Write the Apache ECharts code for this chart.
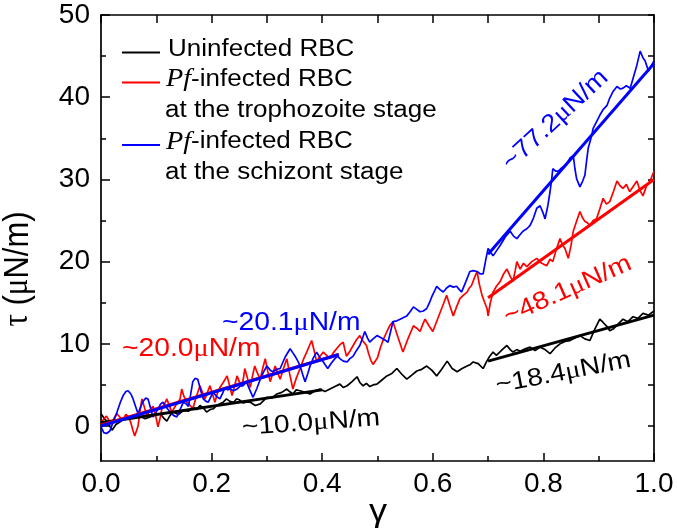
<!DOCTYPE html>
<html>
<head>
<meta charset="utf-8">
<script src="https://cdn.jsdelivr.net/npm/echarts@6/dist/echarts.min.js"></script>
<style>html,body{margin:0;padding:0;background:#fff}#c{width:677px;height:532px}</style>
</head>
<body>
<div id="c"></div>
<script>
// ---- data ----
const gammaBlack = [0,.005,.01,.015,.02,.027,.034,.043,.052,.061,.07,.08,.089,.098,.107,.113,.119,.125,.13,.14,.149,.158,.167,.173,.179,.185,.191,.197,.203,.209,.215,.221,.227,.233,.24,.245,.25,.257,.263,.27,.279,.288,.294,.30,.309,.318,.327,.336,.341,.347,.353,.36,.369,.378,.387,.396,.405,.414,.423,.432,.438,.445,.454,.463,.468,.474,.48,.486,.492,.499,.508,.517,.526,.535,.544,.553,.562,.571,.58,.589,.598,.607,.616,.626,.635,.644,.653,.662,.668,.673,.682,.691,.697,.703,.709,.715,.721,.727,.734,.74,.745,.752,.758,.767,.776,.785,.794,.803,.812,.821,.83,.839,.848,.857,.866,.875,.884,.893,.902,.908,.915,.92,.926,.935,.944,.953,.962,.971,.98,.99,1.0];
const tauBlack = [1.5,1.0,0.6,0.1,-0.5,0.2,0.5,0.9,0.85,1.3,1.2,0.9,1.1,1.4,1.5,1.0,0.6,1.3,1.7,1.4,1.9,1.8,2.3,2.0,2.5,2.2,1.7,2.0,2.1,2.5,2.7,2.9,3.3,3.0,2.9,3.3,3.2,2.8,2.9,2.9,2.5,2.7,3.1,3.5,3.4,3.9,4.1,4.5,4.2,3.9,4.4,4.3,4.1,3.9,4.3,4.5,4.2,4.5,4.8,5.1,4.7,4.9,5.4,6.0,5.3,4.9,5.2,4.8,5.0,5.1,5.6,6.1,6.4,7.0,6.3,5.7,6.2,6.7,6.9,7.3,6.8,6.1,6.9,7.9,7.0,6.6,7.0,7.3,7.5,7.8,7.6,7.0,7.8,8.5,9.0,8.6,9.0,9.4,9.8,9.3,9.0,9.3,9.1,9.4,9.6,9.2,9.6,9.3,8.8,9.5,10.0,10.3,10.4,10.7,11.0,10.6,10.4,11.8,13.0,12.6,12.1,11.6,11.8,12.4,13.0,12.7,13.3,13.1,13.7,13.5,14.0];

const gammaRed = [0,.005,.01,.015,.02,.025,.029,.035,.04,.045,.049,.054,.058,.061,.064,.067,.071,.074,.078,.083,.088,.094,.099,.103,.107,.11,.115,.119,.124,.128,.135,.143,.146,.15,.155,.16,.166,.172,.179,.184,.188,.193,.197,.202,.206,.21,.215,.221,.228,.233,.237,.242,.246,.25,.255,.258,.26,.265,.27,.274,.278,.283,.288,.292,.297,.301,.306,.31,.315,.32,.324,.33,.336,.341,.347,.353,.36,.366,.372,.377,.381,.386,.39,.396,.402,.408,.414,.42,.426,.432,.438,.441,.444,.45,.456,.462,.468,.474,.48,.484,.488,.492,.495,.5,.505,.511,.517,.522,.528,.537,.546,.555,.565,.571,.577,.582,.586,.593,.6,.608,.616,.62,.625,.631,.637,.643,.649,.655,.662,.666,.67,.675,.68,.684,.689,.694,.698,.70,.704,.709,.715,.722,.728,.734,.74,.745,.749,.752,.758,.764,.77,.779,.788,.797,.806,.812,.817,.823,.83,.835,.839,.845,.85,.854,.86,.866,.871,.875,.88,.884,.89,.896,.902,.908,.914,.92,.927,.933,.939,.944,.95,.956,.962,.969,.975,.98,.987,.993,.997,1.0];
const tauRed = [0.2,0.9,1.2,0.6,0.5,1.1,1.5,1.0,0.85,1.4,1.2,0.4,-0.6,-1.2,-0.6,0,2.0,3.3,2.4,1.2,1.9,2.4,1.2,-0.1,1.0,2.1,2.7,3.3,2.4,1.7,2.5,3.3,4.5,3.6,2.9,2.6,2.1,3.5,4.9,4.0,3.3,4.2,4.9,3.8,2.9,3.9,4.7,5.3,6.1,4.8,3.7,5.0,6.1,5.4,4.9,6.0,7.0,5.8,4.7,6.1,7.3,6.4,5.7,6.9,8.2,6.8,5.4,6.3,7.3,6.4,5.7,7.0,8.2,6.4,4.5,5.8,7.0,8.1,9.0,9.8,10.4,9.0,7.8,8.5,9.0,8.6,8.2,8.9,9.4,9.9,10.2,9.3,8.5,9.1,9.8,10.5,11.0,10.3,9.8,8.8,8.0,7.5,7.3,8.3,9.5,10.6,11.5,12.2,12.7,10.8,9.0,10.6,12.2,11.9,11.5,12.4,13.0,12.2,11.5,12.9,14.3,15.0,15.9,14.6,13.4,14.5,15.5,15.9,16.3,16.8,17.1,18.0,18.8,17.3,15.9,15.0,14.3,13.4,15.0,16.3,17.0,17.6,18.5,19.1,18.2,17.6,18.9,20.0,19.1,19.8,19.4,20.0,20.4,19.8,19.5,20.3,20.0,21.4,22.8,22.0,21.6,20.4,22.0,23.7,24.9,26.1,25.3,24.9,24.7,24.4,25.0,25.2,26.4,27.7,27.0,27.3,28.6,29.8,29.2,28.9,29.4,28.5,29.1,29.8,28.6,28.0,29.3,29.8,30.5,31.0];

const gammaBlue = [0,.005,.01,.016,.022,.029,.035,.04,.045,.049,.054,.058,.063,.067,.072,.076,.081,.085,.09,.094,.099,.103,.108,.112,.118,.125,.131,.137,.143,.149,.154,.158,.162,.166,.17,.175,.18,.185,.19,.194,.199,.203,.209,.215,.22,.224,.229,.233,.24,.246,.252,.257,.263,.269,.275,.282,.288,.294,.30,.306,.311,.318,.324,.333,.342,.347,.351,.356,.36,.365,.369,.374,.378,.384,.39,.396,.402,.406,.41,.417,.423,.428,.432,.438,.445,.45,.456,.462,.468,.473,.477,.482,.486,.492,.499,.505,.51,.515,.519,.524,.528,.535,.541,.547,.553,.559,.565,.571,.577,.583,.589,.594,.598,.603,.607,.613,.619,.625,.631,.637,.643,.648,.652,.66,.667,.673,.68,.686,.691,.696,.70,.705,.709,.716,.722,.731,.74,.746,.752,.758,.763,.77,.776,.782,.788,.794,.799,.803,.808,.812,.815,.817,.822,.827,.833,.839,.844,.848,.854,.857,.86,.866,.871,.875,.878,.881,.886,.89,.896,.902,.908,.915,.92,.926,.933,.939,.944,.95,.957,.963,.969,.975,.98,.984,.99,.995,1.0];
const tauBlue = [-0.1,-0.8,-0.9,-0.6,0.5,1.7,2.9,3.7,4.2,4.3,3.9,3.3,2.3,1.5,2.4,3.0,3.4,3.3,2.1,1.1,1.6,2.1,2.7,2.9,2.3,1.7,1.3,1.1,2.0,2.9,2.7,2.4,3.8,5.4,5.8,5.7,4.4,3.3,3.0,2.9,3.6,4.1,3.6,3.3,4.0,4.7,4.4,4.5,4.3,4.5,4.9,4.9,5.4,4.4,3.5,4.6,5.7,6.6,7.3,6.8,6.6,6.9,7.0,8.4,9.4,8.9,8.5,7.9,7.3,6.2,5.4,6.4,7.3,8.3,9.0,8.3,7.8,7.4,7.0,7.7,8.2,8.5,8.2,7.9,7.8,8.2,8.5,9.2,9.8,10.7,11.5,10.7,10.2,10.6,11.0,10.8,10.6,10.4,10.2,11.6,12.7,12.8,13.0,13.2,13.4,13.9,14.5,14.2,13.9,14.0,14.3,15.0,15.7,16.4,17.0,16.6,16.3,16.8,17.1,16.9,17.0,16.6,16.3,17.6,18.8,18.9,18.8,18.5,18.5,20.3,21.6,21.1,20.7,21.4,22.0,23.0,23.7,23.1,22.8,23.3,23.7,24.0,24.4,25.3,26.5,26.8,26.0,25.2,26.8,28.5,30.0,31.3,31.0,31.0,31.4,31.7,32.1,32.6,32.9,31.3,30.1,29.1,29.8,30.5,32.2,33.8,35.0,36.2,37.0,37.8,38.5,39.0,39.9,40.7,41.3,41.0,41.1,41.4,41.1,42.5,43.9,45.6,44.8,44.4,43.2,43.8,44.4];

// linear fits (end points)
const fitBlackLowGamma = [0, 0.40], fitBlackLowTau = [0.4, 4.4];
const fitBlackHighGamma = [0.70, 1.0], fitBlackHighTau = [7.9, 13.5];
const fitRedLowGamma = [0, 0.43], fitRedLowTau = [0.1, 8.7];
const fitRedHighGamma = [0.70, 1.0], fitRedHighTau = [15.6, 30.0];
const fitBlueLowGamma = [0, 0.43], fitBlueLowTau = [0.0, 8.7];
const fitBlueHighGamma = [0.70, 1.0], fitBlueHighTau = [20.9, 44.1];

const yMajorTicks = [0, 10, 20, 30, 40, 50];
const yMinorTicks = [5, 15, 25, 35, 45];
const yRightTicks = [0, 5, 10, 15, 20, 25, 30, 35, 40, 45, 50];

const zip = (a, b) => a.map((v, i) => [v, b[i]]);
const FONT = '"Liberation Sans", Arial, sans-serif';
const SERIF = '"Liberation Serif", "Times New Roman", serif';
const Y_MIN = -4.25, Y_MAX = 50;

const chart = echarts.init(document.getElementById('c'), null, {renderer: 'canvas'});

const axisLineStyle = {color: '#000', width: 1.7};
function line(data, color, width, z) {
  return {type: 'line', data: data, showSymbol: false, symbol: 'none', silent: true,
    lineStyle: {color: color, width: width}, z: z, animation: false, clip: true};
}

function label(txt, color, x, y, rot, size, sx) {
  return {type: 'text', x: x, y: y, rotation: rot * Math.PI / 180, scaleX: sx || 1.13, scaleY: 1, z: 100,
    style: {text: txt, fill: color, font: size + 'px ' + FONT, verticalAlign: 'middle', align: 'left',
      rich: {g: {fontFamily: SERIF, fontSize: size, fill: color}}}};
}
function legendText(txt, x, y) {
  return {type: 'text', x: x, y: y, scaleX: 1.13, z: 100,
    style: {text: txt, fill: '#000', font: '23px ' + FONT, verticalAlign: 'middle',
      rich: {pf: {fontFamily: SERIF, fontStyle: 'italic', fontSize: 25, fill: '#000'}}}};
}

const option = {
  backgroundColor: '#fff',
  animation: false,
  grid: {left: 101, right: 23, top: 15, bottom: 71, containLabel: false},
  xAxis: [
    {type: 'value', min: 0, max: 1, interval: 0.2, position: 'bottom',
      axisLine: {show: true, onZero: false, lineStyle: axisLineStyle},
      axisTick: {show: true, inside: true, length: 8, lineStyle: {color: '#000', width: 1.5}},
      minorTick: {show: true, splitNumber: 2, length: 5, lineStyle: {color: '#000', width: 1.5}},
      axisLabel: {show: true, margin: 9, fontSize: 28, color: '#000', fontFamily: FONT,
        formatter: v => v.toFixed(1)},
      splitLine: {show: false}, minorSplitLine: {show: false}},
    {type: 'value', min: 0, max: 1, interval: 0.1, position: 'top',
      axisLine: {show: true, onZero: false, lineStyle: axisLineStyle},
      axisTick: {show: true, inside: true, length: 8, lineStyle: {color: '#000', width: 1.5}},
      axisLabel: {show: false}, splitLine: {show: false}}
  ],
  yAxis: [
    {type: 'value', min: Y_MIN, max: Y_MAX, position: 'left',
      axisLine: {show: true, onZero: false, lineStyle: axisLineStyle},
      axisTick: {show: true, inside: true, length: 9, customValues: yMajorTicks, lineStyle: {color: '#000', width: 1.5}},
      axisLabel: {show: true, customValues: yMajorTicks, margin: 11, fontSize: 28, color: '#000', fontFamily: FONT},
      splitLine: {show: false}},
    {type: 'value', min: Y_MIN, max: Y_MAX, position: 'right',
      axisLine: {show: true, onZero: false, lineStyle: axisLineStyle},
      axisTick: {show: true, inside: true, length: 6, customValues: yRightTicks, lineStyle: {color: '#000', width: 1.5}},
      axisLabel: {show: false}, splitLine: {show: false}},
    {type: 'value', min: Y_MIN, max: Y_MAX, position: 'left',
      axisLine: {show: false, onZero: false},
      axisTick: {show: true, inside: true, length: 5, customValues: yMinorTicks, lineStyle: {color: '#000', width: 1.5}},
      axisLabel: {show: false}, splitLine: {show: false}}
  ],
  series: [
    line(zip(gammaBlack, tauBlack), '#000000', 1.7, 2),
    line(zip(gammaRed, tauRed), '#ff0000', 1.7, 3),
    line(zip(gammaBlue, tauBlue), '#0000ff', 1.7, 4),
    line(zip(fitBlackLowGamma, fitBlackLowTau), '#000000', 3, 5),
    line(zip(fitBlackHighGamma, fitBlackHighTau), '#000000', 3, 5),
    line(zip(fitRedLowGamma, fitRedLowTau), '#ff0000', 3, 6),
    line(zip(fitRedHighGamma, fitRedHighTau), '#ff0000', 3, 6),
    line(zip(fitBlueLowGamma, fitBlueLowTau), '#0000ff', 3, 7),
    line(zip(fitBlueHighGamma, fitBlueHighTau), '#0000ff', 3, 7)
  ],
  graphic: [
    // legend
    {type: 'line', shape: {x1: 122, y1: 52.5, x2: 160, y2: 52.5}, style: {stroke: '#000', lineWidth: 1.8}, z: 100},
    {type: 'line', shape: {x1: 122, y1: 82.5, x2: 160, y2: 82.5}, style: {stroke: '#ff0000', lineWidth: 1.8}, z: 100},
    {type: 'line', shape: {x1: 122, y1: 145, x2: 160, y2: 145}, style: {stroke: '#0000ff', lineWidth: 1.8}, z: 100},
    legendText('Uninfected RBC', 168, 49.5),
    legendText('{pf|Pf}-infected RBC', 166, 79.5),
    legendText('at the trophozoite stage', 165, 110.5),
    legendText('{pf|Pf}-infected RBC', 166, 142),
    legendText('at the schizont stage', 165, 172.5),
    // slope annotations
    label('~20.0{g|μ}N/m', '#ff0000', 122, 349, 0, 25),
    label('~20.1{g|μ}N/m', '#0000ff', 222, 323, 0, 25),
    label('~10.0{g|μ}N/m', '#000000', 242, 428, 4, 25),
    label('~18.4{g|μ}N/m', '#000000', 496, 386, 11, 25, 1.12),
    label('~48.1{g|μ}N/m', '#ff0000', 505, 318, 24, 25, 1.12),
    label('~77.2{g|μ}N/m', '#0000ff', 506, 166, 43, 25, 1.1),
    // axis titles
    {type: 'text', x: 378, y: 512, z: 100, scaleX: 1.13, style: {text: 'γ', fill: '#000', font: '32px ' + FONT, align: 'center', verticalAlign: 'middle'}},
    {type: 'text', x: 18, y: 269, rotation: Math.PI / 2, scaleY: 1.13, z: 100,
      style: {text: '{g|τ} ({g|μ}N/m)', fill: '#000', font: '31px ' + FONT, align: 'center', verticalAlign: 'middle',
        rich: {g: {fontFamily: SERIF, fontSize: 31, fill: '#000'}}}}
  ]
};
chart.setOption(option);
</script>
</body>
</html>
